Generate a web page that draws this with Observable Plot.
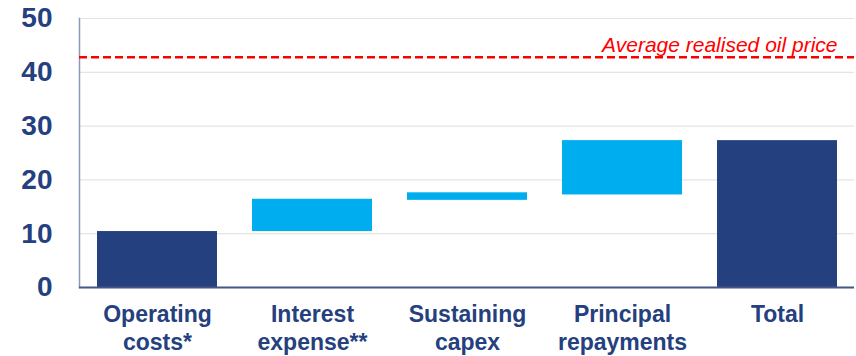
<!DOCTYPE html>
<html>
<head>
<meta charset="utf-8">
<script src="https://cdn.jsdelivr.net/npm/d3@7"></script>
<script src="https://cdn.jsdelivr.net/npm/@observablehq/plot@0.6"></script>
<style>
  html, body { margin: 0; padding: 0; background: #ffffff; }
  #chart { width: 856px; height: 356px; }
</style>
</head>
<body>
<div id="chart"></div>
<script>
const categories = ["Operating\ncosts*", "Interest\nexpense**", "Sustaining\ncapex", "Principal\nrepayments", "Total"];
const startValues = [0, 10.4, 16.2, 17.2, 0];
const endValues = [10.4, 16.4, 17.6, 27.3, 27.3];
const barKinds = ["total", "step", "step", "step", "total"];
const yTicks = [0, 10, 20, 30, 40, 50];
const oilPrice = 42.8;
const oilLabel = "Average realised oil price";

const navy = "#24407E";
const lightBlue = "#00AEEF";

const bars = categories.map((c, i) => ({category: c, start: startValues[i], end: endValues[i], kind: barKinds[i]}));

const chart = Plot.plot({
  width: 856,
  height: 356,
  marginLeft: 79,
  marginRight: 2,
  marginTop: 18,
  marginBottom: 69,
  style: {fontFamily: "Arial, 'Liberation Sans', sans-serif", background: "#ffffff"},
  x: {domain: categories, paddingInner: 0.226, paddingOuter: 0.11, label: null},
  y: {domain: [0, 50], ticks: yTicks, label: null},
  color: {domain: ["total", "step"], range: [navy, lightBlue]},
  marks: [
    Plot.gridY(yTicks.filter(t => t > 0), {stroke: "#e4e4e4", strokeOpacity: 1, strokeWidth: 1.2}),
    Plot.frame({anchor: "left", stroke: "#8c98ba", strokeWidth: 1.5}),
    Plot.barY(bars, {x: "category", y1: "start", y2: "end", fill: "kind"}),
    Plot.ruleY([0], {stroke: "#45568a", strokeWidth: 2}),
    Plot.ruleY([oilPrice], {stroke: "#FF0000", strokeWidth: 2.5, strokeDasharray: "8,4"}),
    Plot.text([oilLabel], {
      frameAnchor: "right", y: oilPrice, text: d => d, textAnchor: "end", lineAnchor: "bottom",
      dx: -17, dy: -5, fill: "#FF0000", fontSize: 21, fontStyle: "italic"
    }),
    Plot.axisY({ticks: yTicks, tickSize: 0, tickPadding: 27, fontSize: 28, fontWeight: "bold", fill: navy, label: null}),
    Plot.axisX({tickSize: 0, tickPadding: 15, fontSize: 23, fontWeight: "bold", fill: navy, lineHeight: 1.2, label: null})
  ]
});
document.getElementById("chart").appendChild(chart);
</script>
</body>
</html>
